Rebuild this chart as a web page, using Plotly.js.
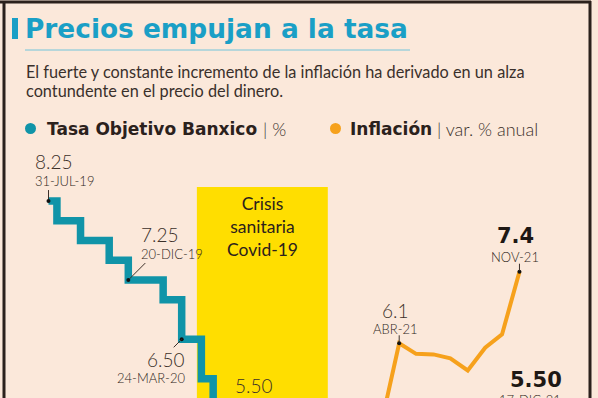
<!DOCTYPE html>
<html><head><meta charset="utf-8">
<script src="https://cdn.plot.ly/plotly-3.0.1.min.js"></script>
<style>html,body{margin:0;padding:0;overflow:hidden;background:#fbe8da;width:598px;height:398px}</style>
</head><body><div id="chart" style="width:598px;height:460px"></div>
<script>
// ---- Data ----
const tasaFechas = ['2019-07-31','2019-08-15','2019-09-26','2019-11-16','2019-12-20','2020-02-20','2020-03-24','2020-04-28','2020-05-19','2020-06-25','2020-08-13','2020-09-24','2021-02-11','2021-06-24','2021-08-12','2021-09-30','2021-11-11','2021-12-17'];
const tasaValores = [8.25,8.00,7.75,7.50,7.25,7.00,6.50,6.00,5.50,5.00,4.50,4.25,4.00,4.25,4.50,4.75,5.00,5.50];
const inflFechas = ['2021-01-15','2021-02-15','2021-03-15','2021-04-15','2021-05-15','2021-06-15','2021-07-15','2021-08-15','2021-09-15','2021-10-15','2021-11-15'];
const inflValores = [3.54,3.76,4.67,6.08,5.89,5.88,5.81,5.59,6.00,6.24,7.37];
const tasaEtiquetaIdx = [0,4,6,8,17];
const tasaEtiquetaFecha = ['31-JUL-19','20-DIC-19','24-MAR-20','','17-DIC-21'];
const inflEtiquetaIdx = [3,10];
const inflEtiquetaFecha = ['ABR-21','NOV-21'];
const covidPeriodo = ['2020-04-20','2020-12-09'];
const covidTexto = 'Crisis<br>sanitaria<br>Covid-19';
const titulo = 'Precios empujan a la tasa';
const subtitulo = ['El fuerte y constante incremento de la inflación ha derivado en un alza','contundente en el precio del dinero.'];
const leyendaNombres = ['Tasa Objetivo Banxico','Inflación'];
const leyendaUnidades = ['| %','| var. % anual'];

// ---- Layout helpers ----
const W = 598, H = 460;
const FAM = 'Lato, "Open Sans", sans-serif';
const BOLD = '"DejaVu Sans", Verdana, sans-serif';
const TXT = '#3b3029';
const TEAL = '#1094a8', ORANGE = '#f6a11c', YELLOW = '#ffde00', TITLE = '#1a9fc6';
const X = px => px / W, Y = py => 1 - py / H;
const DAY = 86400000, ANCHOR = Date.UTC(2019,6,31), PPD = 0.562, X0 = 48.5;
const fmt = ms => new Date(ms).toISOString().replace('T',' ').slice(0,19);
const xRange = [fmt(ANCHOR + (0 - X0)/PPD*DAY), fmt(ANCHOR + (W - X0)/PPD*DAY)];
const PPU1 = 79, R1v = 6.5, R1p = 339.3;
const PPU2 = 55.5, R2v = 6.08, R2p = 343.3;
const yRange = [R1v - (H - R1p)/PPU1, R1v + R1p/PPU1];
const y2Range = [R2v - (H - R2p)/PPU2, R2v + R2p/PPU2];

const traces = [
  {x: tasaFechas, y: tasaValores, type:'scatter', mode:'lines', line:{shape:'hv', width:7.5, color:TEAL}, hoverinfo:'skip'},
  {x: inflFechas, y: inflValores, type:'scatter', mode:'lines', yaxis:'y2', line:{width:4, color:ORANGE}, hoverinfo:'skip'},
  {x: tasaEtiquetaIdx.slice(0,3).map(i=>tasaFechas[i]), y: tasaEtiquetaIdx.slice(0,3).map(i=>tasaValores[i]), mode:'markers', type:'scatter', marker:{size:4, color:'#111'}, hoverinfo:'skip'},
  {x: inflEtiquetaIdx.map(i=>inflFechas[i]), y: inflEtiquetaIdx.map(i=>inflValores[i]), yaxis:'y2', mode:'markers', type:'scatter', marker:{size:4, color:'#111'}, hoverinfo:'skip'}
];

const ann = [];
const shp = [];
function lab(x, y, yref, text, xanchor, xs, ys, font){
  ann.push({x, y, xref:'x', yref, text, showarrow:false, xanchor, yanchor:'middle', xshift:xs, yshift:ys, font});
}
function leader(x, y, yref, x0, y0, x1, y1){
  shp.push({type:'line', xref:'x', yref, xsizemode:'pixel', ysizemode:'pixel', xanchor:x, yanchor:y,
    x0, y0, x1, y1, line:{color:TXT, width:1}});
}
const fLight = {family:FAM, size:19, weight:300, color:TXT};
const fBold = {family:BOLD, size:21, weight:700, color:'#1e1814'};
const fDate = {family:FAM, size:13, weight:300, color:'#2f2620'};
// Teal labels
const tasaLab = [
  {xa:'left', xs:-15.5, vy:39.6, dy:19.6, f:fLight, lead:[0,2,0,11]},
  {xa:'left', xs:10.7, vy:45.3, dy:26.3, f:fLight, lead:[1,1,17,17]},
  {xa:'right', xs:5.3, vy:-20.2, dy:-38.7, f:fLight, lead:[0,0,-8,-8]},
  {xa:'left', xs:19.8, vy:32.8, dy:0, f:fLight, lead:null},
  {xa:'center', xs:-1.4, vy:38.8, dy:18.8, f:fBold, dxs:-6}
];
tasaEtiquetaIdx.forEach((i,k)=>{
  const s = tasaLab[k], x = tasaFechas[i], y = tasaValores[i];
  lab(x, y, 'y', tasaValores[i].toFixed(2), s.xa, s.xs, s.vy, s.f);
  if (tasaEtiquetaFecha[k]) lab(x, y, 'y', tasaEtiquetaFecha[k], s.xa, s.xs + (s.dxs||0), s.dy, fDate);
  if (s.lead) leader(x, y, 'y', ...s.lead);
});
// Inflation labels
const inflLab = [
  {xs:-4, vy:33.3, dy:14.8, f:fLight},
  {xs:-4, vy:35.7, dy:15.2, f:fBold}
];
inflEtiquetaIdx.forEach((i,k)=>{
  const s = inflLab[k], x = inflFechas[i], y = inflValores[i];
  lab(x, y, 'y2', inflValores[i].toFixed(1), 'center', s.xs, s.vy, s.f);
  lab(x, y, 'y2', inflEtiquetaFecha[k], 'center', s.xs, s.dy, fDate);
  leader(x, y, 'y2', 0, 1, 0, 8);
});
// Covid band
shp.push({type:'rect', xref:'x', yref:'paper', x0:covidPeriodo[0], x1:covidPeriodo[1], y0:0, y1:Y(187), fillcolor:YELLOW, line:{width:0}, layer:'below'});
const mid = fmt((Date.parse(covidPeriodo[0]) + Date.parse(covidPeriodo[1]))/2);
ann.push({x:mid, y:Y(227), xref:'x', yref:'paper', text:covidTexto, showarrow:false, xanchor:'center', yanchor:'middle', align:'center',
  font:{family:FAM, size:17.5, color:'#2b211c'}});
// Header
shp.push({type:'rect', xref:'paper', yref:'paper', x0:X(12), x1:X(18), y0:Y(39), y1:Y(18), fillcolor:TITLE, line:{width:0}});
shp.push({type:'line', xref:'paper', yref:'paper', x0:X(25), x1:X(410), y0:Y(50), y1:Y(50), line:{color:'#72c4da', width:1}});
ann.push({x:X(23), y:Y(29), xref:'paper', yref:'paper', text:titulo, showarrow:false, xanchor:'left', yanchor:'middle',
  font:{family:BOLD, size:26.4, weight:700, color:TITLE}});
subtitulo.forEach((t,k)=>ann.push({x:X(24), y:Y(71 + 20*k), xref:'paper', yref:'paper', text:t, showarrow:false, xanchor:'left', yanchor:'middle',
  font:{family:FAM, size:16.3, color:'#3a302b'}}));
// Legend
const legX = [[25,45,261],[330,348,435]];
const legCol = [TEAL, ORANGE];
legX.forEach((p,k)=>{
  shp.push({type:'circle', xref:'paper', yref:'paper', x0:X(p[0]), x1:X(p[0]+11), y0:Y(134), y1:Y(123), fillcolor:legCol[k], line:{width:0}});
  ann.push({x:X(p[1]), y:Y(129), xref:'paper', yref:'paper', showarrow:false, xanchor:'left', yanchor:'middle',
    text:leyendaNombres[k], font:{family:BOLD, size:17, weight:700, color:'#2b211c'}});
  ann.push({x:X(p[2]), y:Y(129), xref:'paper', yref:'paper', showarrow:false, xanchor:'left', yanchor:'middle',
    text:leyendaUnidades[k], font:{family:FAM, size:18, weight:300, color:'#3a302b'}});
});
// Frame
shp.push({type:'line', xref:'paper', yref:'paper', x0:X(0), x1:X(591), y0:Y(2), y1:Y(2), line:{color:'#2b211c', width:3}});
shp.push({type:'line', xref:'paper', yref:'paper', x0:X(4), x1:X(4), y0:Y(1), y1:Y(H), line:{color:'#2b211c', width:3}});
shp.push({type:'line', xref:'paper', yref:'paper', x0:X(590), x1:X(590), y0:Y(1), y1:Y(H), line:{color:'#2b211c', width:3}});

const layout = {
  width:W, height:H, margin:{l:0,r:0,t:0,b:0}, paper_bgcolor:'#fbe8da', plot_bgcolor:'rgba(0,0,0,0)',
  showlegend:false, annotations:ann, shapes:shp,
  xaxis:{type:'date', range:xRange, visible:false, fixedrange:true},
  yaxis:{range:yRange, visible:false, fixedrange:true},
  yaxis2:{range:y2Range, visible:false, overlaying:'y', fixedrange:true}
};
Plotly.newPlot('chart', traces, layout, {staticPlot:true, displayModeBar:false});
</script></body></html>
